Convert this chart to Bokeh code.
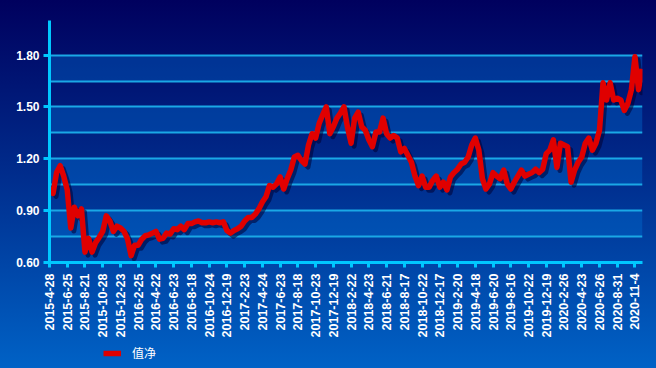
from math import pi
from bokeh.plotting import figure
from bokeh.layouts import column
from bokeh.models import (FixedTicker, Range1d, Legend, LegendItem, ColumnDataSource,
                          NumeralTickFormatter)
from bokeh.transform import dodge
from bokeh.embed import file_html
from bokeh.resources import INLINE

# ---- data ----
tick_labels = [
    "2015-4-28", "2015-6-25", "2015-8-21", "2015-10-28", "2015-12-23",
    "2016-2-25", "2016-4-22", "2016-6-23", "2016-8-18", "2016-10-24", "2016-12-19",
    "2017-2-23", "2017-4-24", "2017-6-23", "2017-8-18", "2017-10-23", "2017-12-19",
    "2018-2-22", "2018-4-23", "2018-6-21", "2018-8-17", "2018-10-22", "2018-12-17",
    "2019-2-20", "2019-4-18", "2019-6-20", "2019-8-16", "2019-10-22", "2019-12-19",
    "2020-2-26", "2020-4-23", "2020-6-26", "2020-8-31", "2020-11-4",
]
tick_step = 40      # trading days between labelled ticks
sample_step = 8     # trading days between sampled values

nav = [
    1.03, 1.00, 1.12, 1.16, 1.10, 1.02, 0.80, 0.92, 0.87, 0.91,
    0.66, 0.74, 0.66, 0.715, 0.745, 0.78, 0.87, 0.84, 0.78, 0.81,
    0.80, 0.78, 0.735, 0.64, 0.70, 0.70, 0.735, 0.755, 0.76, 0.77,
    0.78, 0.735, 0.74, 0.77, 0.765, 0.795, 0.79, 0.81, 0.79, 0.825,
    0.825, 0.835, 0.84, 0.83, 0.83, 0.835, 0.83, 0.835, 0.83, 0.835,
    0.785, 0.77, 0.785, 0.795, 0.81, 0.84, 0.86, 0.86, 0.88, 0.91,
    0.95, 0.98, 1.045, 1.035, 1.055, 1.095, 1.025, 1.085, 1.135, 1.21,
    1.22, 1.19, 1.17, 1.28, 1.345, 1.32, 1.405, 1.455, 1.50, 1.345,
    1.385, 1.435, 1.465, 1.50, 1.38, 1.29, 1.435, 1.47, 1.385, 1.365,
    1.31, 1.27, 1.355, 1.355, 1.435, 1.345, 1.32, 1.335, 1.32, 1.24,
    1.26, 1.22, 1.18, 1.10, 1.045, 1.10, 1.036, 1.036, 1.075, 1.10,
    1.036, 1.065, 1.02, 1.095, 1.12, 1.14, 1.17, 1.18, 1.21, 1.28,
    1.32, 1.25, 1.085, 1.025, 1.055, 1.12, 1.10, 1.085, 1.135, 1.055,
    1.025, 1.065, 1.10, 1.135, 1.10, 1.11, 1.12, 1.14, 1.12, 1.14,
    1.23, 1.25, 1.31, 1.15, 1.29, 1.28, 1.27, 1.065, 1.135, 1.18,
    1.21, 1.29, 1.32, 1.25, 1.29, 1.365, 1.64, 1.54, 1.64, 1.54,
    1.55, 1.54, 1.48, 1.52, 1.60, 1.79, 1.60, 1.72,
]
y_ticks = [0.60, 0.90, 1.20, 1.50, 1.80]
grid_levels = [0.45, 0.60, 0.75, 0.90, 1.05, 1.20, 1.35, 1.50, 1.65, 1.80, 2.00]
series_name = "值净"

RED = "#e00000"

# ---- main chart ----
xs = [i * sample_step for i in range(len(nav))]
src = ColumnDataSource(dict(x=xs, y=nav))
tick_pos = [i * tick_step for i in range(len(tick_labels))]

p = figure(width=656, height=340, output_backend="svg", toolbar_location=None,
           x_range=Range1d(0, 1337), y_range=Range1d(0.60, 2.0),
           min_border_left=49, min_border_right=14, min_border_top=20,
           min_border_bottom=78)
p.background_fill_alpha = 0
p.border_fill_alpha = 0
p.outline_line_color = None

p.xgrid.visible = False
p.ygrid.ticker = FixedTicker(ticks=grid_levels)
p.ygrid.grid_line_color = "#1aa8e6"
p.ygrid.grid_line_width = 2
p.ygrid.band_fill_color = "#0072d4"
p.ygrid.band_fill_alpha = 0.38

axis_col = "#00c8ff"
for ax in (p.xaxis[0], p.yaxis[0]):
    ax.axis_line_color = axis_col
    ax.axis_line_width = 3
    ax.major_tick_line_color = axis_col
    ax.major_tick_line_width = 3
    ax.major_tick_in = 0
    ax.minor_tick_line_color = None
    ax.major_label_text_color = "white"
    ax.major_label_text_font = "Liberation Sans"
    ax.major_label_text_font_style = "bold"
    ax.major_label_text_font_size = "12px"

p.xaxis.ticker = FixedTicker(ticks=tick_pos)
p.xaxis.major_label_overrides = {pos: lab for pos, lab in zip(tick_pos, tick_labels)}
p.xaxis.major_label_orientation = pi / 2
p.xaxis.major_label_text_font_size = "12.5px"
p.xaxis.major_tick_out = 5
p.xaxis.major_label_standoff = 6

p.yaxis.ticker = FixedTicker(ticks=y_ticks)
p.yaxis.formatter = NumeralTickFormatter(format="0.00")
p.yaxis.major_tick_out = 6
p.yaxis.major_label_standoff = 4

# shadow + line
p.line(x=dodge("x", 6.8), y=dodge("y", -0.0175), source=src,
       line_color="#000033", line_alpha=0.55, line_width=5, line_join="round")
p.line("x", "y", source=src, line_color=RED, line_width=5.5, line_join="round")

# ---- legend strip (its frame is aligned with the main frame) ----
p2 = figure(width=656, height=28, output_backend="svg", toolbar_location=None,
            x_range=Range1d(0, 1), y_range=Range1d(-2, -1),
            min_border_left=0, min_border_right=0, min_border_top=0,
            min_border_bottom=0)
p2.axis.visible = False
p2.grid.visible = False
p2.background_fill_alpha = 0
p2.border_fill_alpha = 0
p2.outline_line_color = None
leg_shadow = p2.line("x", "y", source=src, line_color="#000033", line_alpha=0.5,
                     line_width=5.5)
leg_r = p2.line("x", "y", source=src, line_color=RED, line_width=5.5)

legend = Legend(items=[LegendItem(label=series_name, renderers=[leg_r])],
                location=(54, 7), orientation="horizontal",
                background_fill_alpha=0, border_line_alpha=0,
                padding=0, margin=0, glyph_width=18, glyph_height=12,
                label_height=12, label_standoff=11,
                label_text_color="white", label_text_font="Noto Sans CJK SC",
                label_text_font_size="12px")
p2.add_layout(legend)

layout = column(p, p2, spacing=0)
layout.styles = {"background": "linear-gradient(to bottom, #00005e 0%, #002a8a 45%, #0062c6 100%)"}

open("out.html", "w").write(file_html(layout, INLINE))
